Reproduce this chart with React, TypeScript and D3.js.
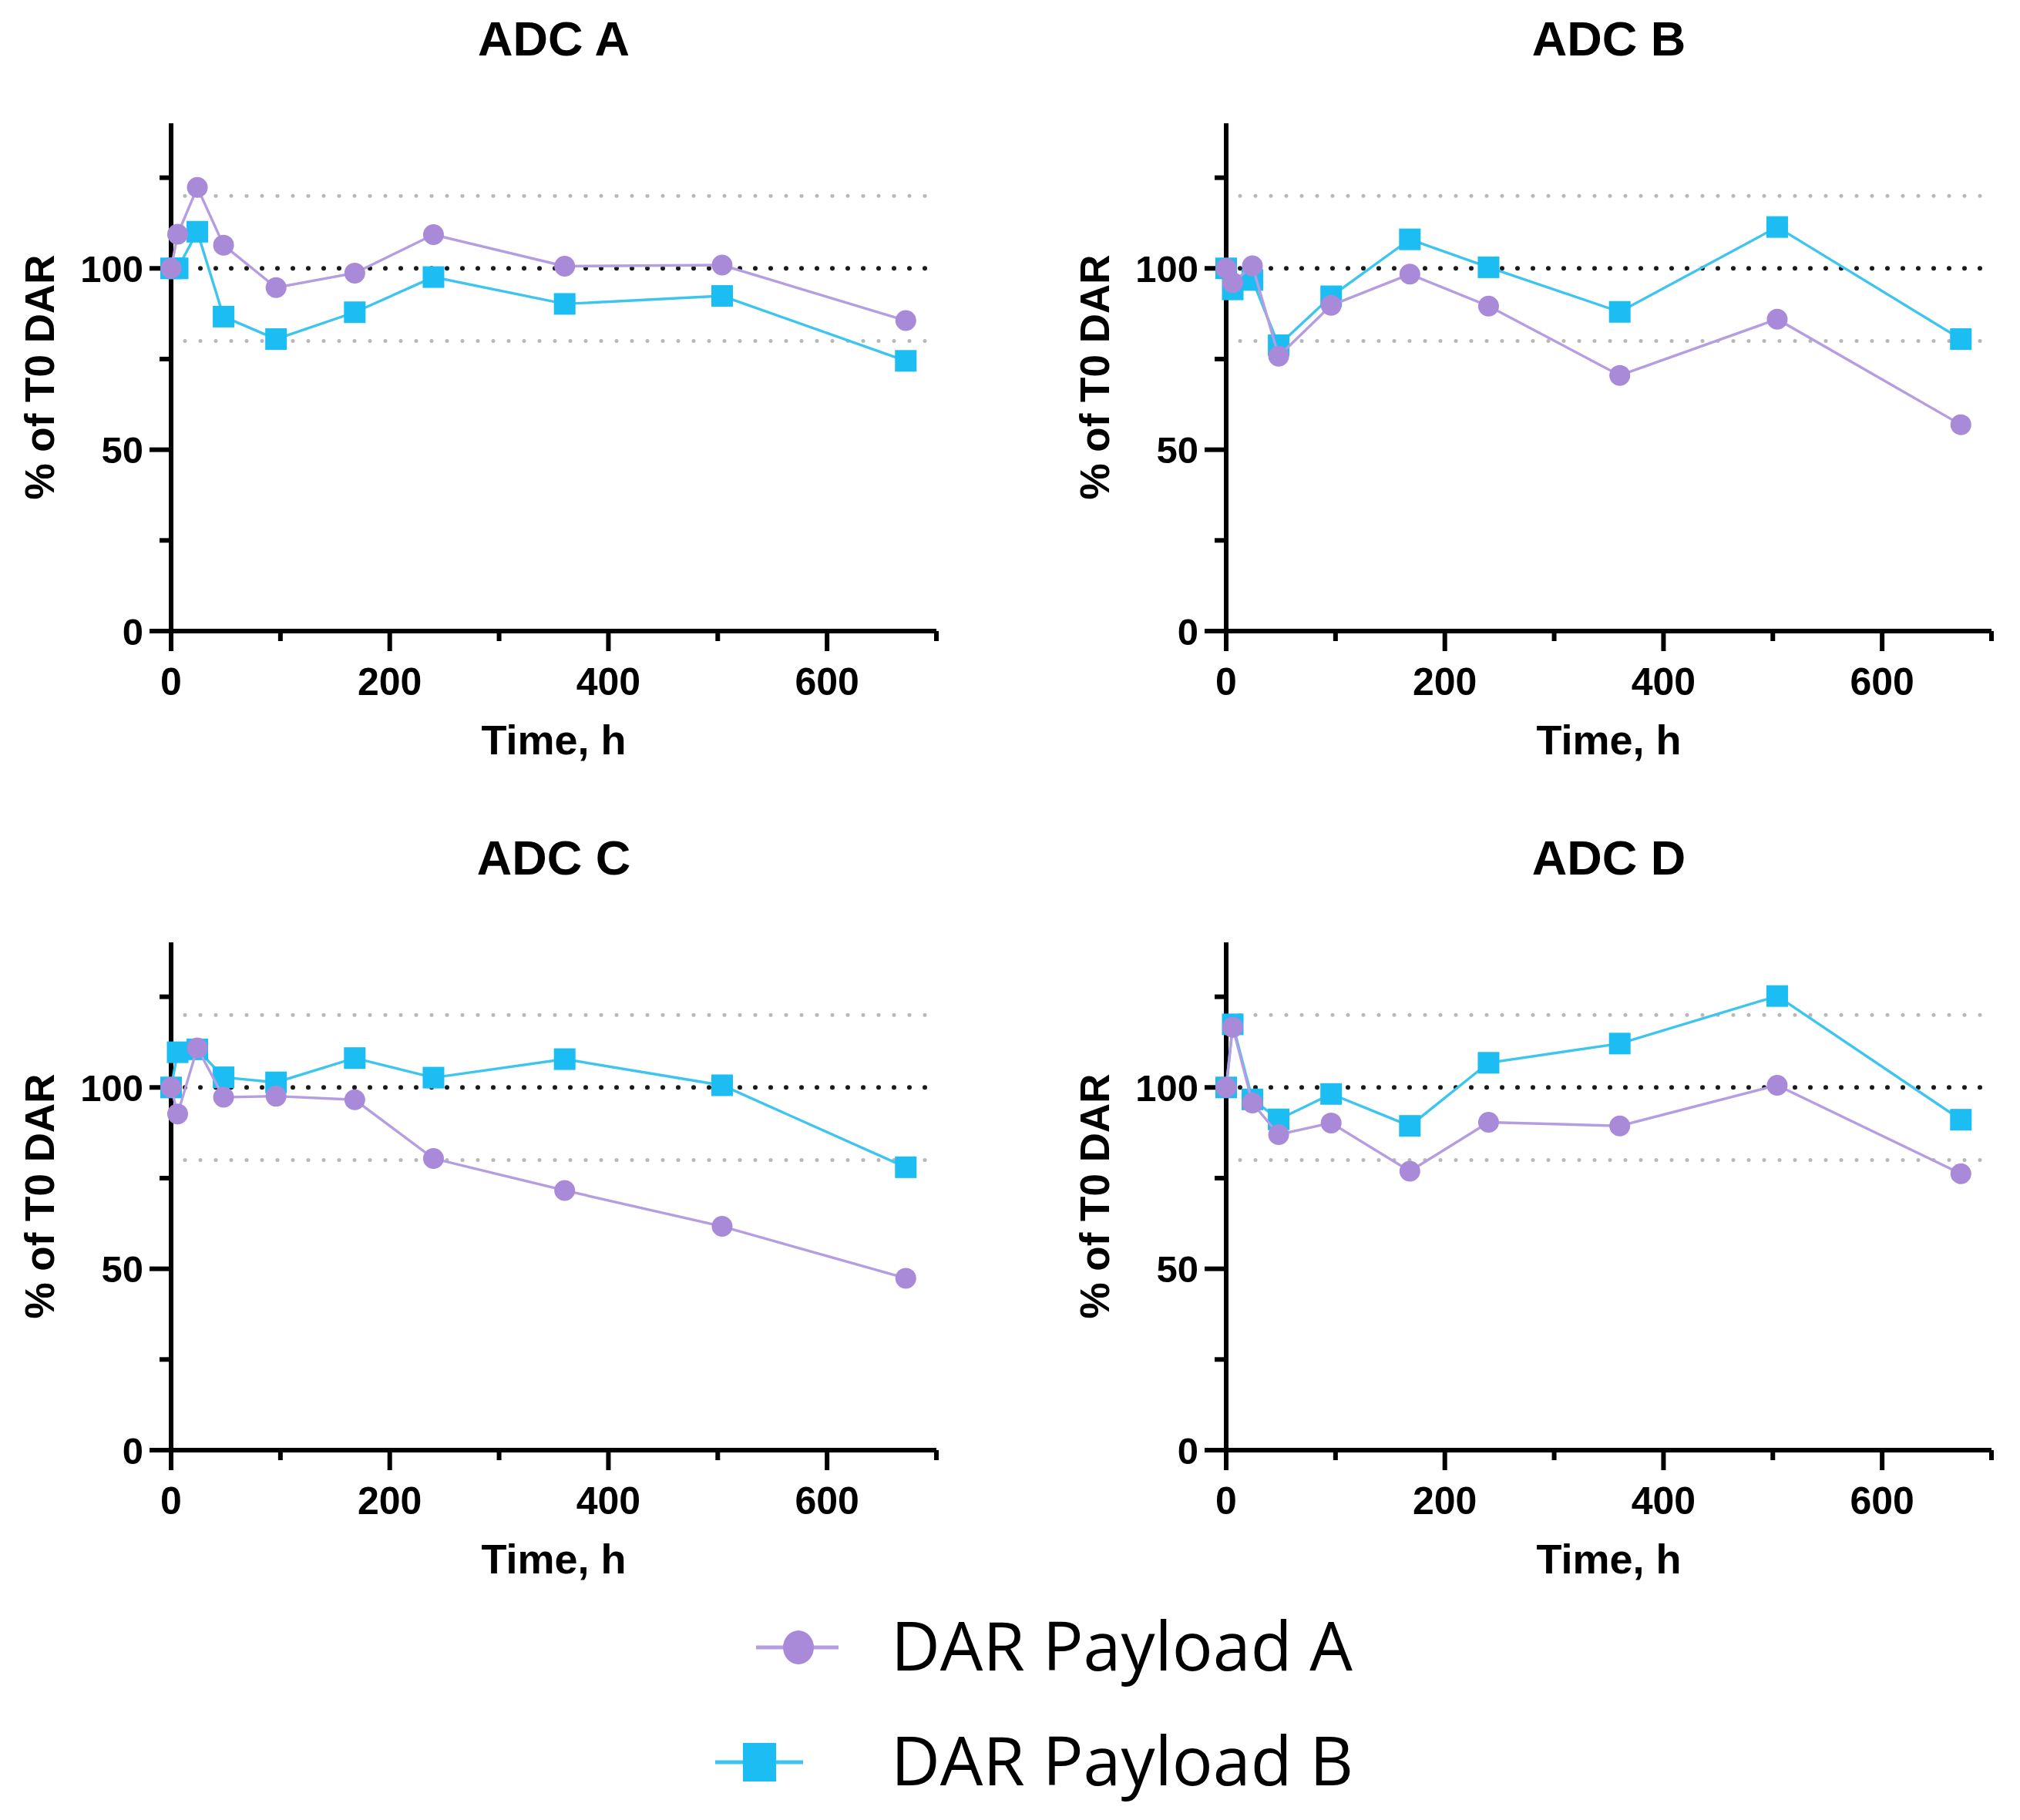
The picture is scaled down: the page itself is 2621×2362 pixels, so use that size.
// @ts-nocheck
import React from "react";
import { scaleLinear, line, range } from "d3";

// sampling times (h)
const hours = [0, 6, 24, 48, 96, 168, 240, 360, 504, 672];

// % of T0 DAR
const adcAPayloadA = [100, 109.4, 122.3, 106.4, 94.7, 98.7, 109.3, 100.6, 100.9, 85.6];
const adcAPayloadB = [100, 100, 110.1, 86.7, 80.5, 87.9, 97.6, 90.2, 92.4, 74.5];
const adcBPayloadA = [100, 96.1, 100.7, 75.8, 89.8, 98.4, 89.6, 70.5, 86.0, 56.9];
const adcBPayloadB = [100, 94.2, 96.8, 78.8, 92.3, 108.0, 100.3, 88.0, 111.4, 80.5];
const adcCPayloadA = [100, 92.7, 110.9, 97.3, 97.6, 96.6, 80.4, 71.6, 61.7, 47.4];
const adcCPayloadB = [100, 109.7, 110.5, 102.8, 101.4, 108.1, 102.7, 107.8, 100.6, 78.0];
const adcDPayloadA = [100, 116.6, 95.7, 87.0, 90.2, 76.9, 90.4, 89.4, 100.6, 76.2];
const adcDPayloadB = [100, 117.4, 96.7, 91.2, 98.2, 89.4, 106.8, 112.1, 125.2, 91.1];

const panelTitles = ["ADC A", "ADC B", "ADC C", "ADC D"];
const payloadA = [adcAPayloadA, adcBPayloadA, adcCPayloadA, adcDPayloadA];
const payloadB = [adcAPayloadB, adcBPayloadB, adcCPayloadB, adcDPayloadB];

const refLines = [120, 100, 80];
const xMajor = [0, 200, 400, 600];
const yMajor = [0, 50, 100];
const legendLabels = ["DAR Payload A", "DAR Payload B"];

const W = 2621;
const H = 2362;
const PURPLE = "#a98ad8";
const PURPLE_LINE = "#b49de0";
const CYAN = "#1bbdf3";
const CYAN_LINE = "#3ec5ef";
const FONT = "'Liberation Sans', Arial, sans-serif";

const plotW = 993;
const plotH = 659;
const origins = [
  [222, 160],
  [1591, 160],
  [222, 1223],
  [1591, 1223],
];

const Panel = ({ title, a, b, ox, oy }) => {
  const x = scaleLinear().domain([0, 700]).range([0, plotW]);
  const y = scaleLinear().domain([0, 140]).range([plotH, 0]);
  const path = line()
    .x((d) => x(d[0]))
    .y((d) => y(d[1]));
  const ptsA = hours.map((h, i) => [h, a[i]]);
  const ptsB = hours.map((h, i) => [h, b[i]]);

  return (
    <g transform={`translate(${ox},${oy})`}>
      <text x={plotW / 2} y={-88} textAnchor="middle" fontFamily={FONT} fontWeight="bold" fontSize={63}>
        {title}
      </text>

      {/* reference lines */}
      {refLines.map((r) => (
        <line
          key={r}
          x1={x(0) + 18}
          x2={x(700)}
          y1={y(r)}
          y2={y(r)}
          stroke={r === 100 ? "#1a1a1a" : "#b8b8b8"}
          strokeWidth={r === 100 ? 6 : 5}
          strokeDasharray="0 20"
          strokeLinecap="round"
        />
      ))}

      {/* axes */}
      <line x1={-28} x2={plotW} y1={plotH} y2={plotH} stroke="#000" strokeWidth={6} />
      <line x1={0} x2={0} y1={0} y2={plotH + 26} stroke="#000" strokeWidth={6} />
      {range(0, 141, 25).map((v) => (
        <line
          key={v}
          x1={yMajor.includes(v) ? -28 : -15}
          x2={0}
          y1={y(v)}
          y2={y(v)}
          stroke="#000"
          strokeWidth={6}
        />
      ))}
      {range(100, 701, 100).map((v) => (
        <line
          key={v}
          x1={x(v)}
          x2={x(v)}
          y1={plotH}
          y2={plotH + (xMajor.includes(v) ? 26 : 13)}
          stroke="#000"
          strokeWidth={6}
        />
      ))}
      {yMajor.map((v) => (
        <text
          key={v}
          x={-36}
          y={y(v)}
          dy="0.36em"
          textAnchor="end"
          fontFamily={FONT}
          fontWeight="bold"
          fontSize={49}
        >
          {v}
        </text>
      ))}
      {xMajor.map((v) => (
        <text
          key={v}
          x={x(v)}
          y={plotH + 83}
          textAnchor="middle"
          fontFamily={FONT}
          fontWeight="bold"
          fontSize={50}
        >
          {v}
        </text>
      ))}
      <text x={plotW / 2} y={plotH + 160} textAnchor="middle" fontFamily={FONT} fontWeight="bold" fontSize={54}>
        Time, h
      </text>
      <text
        transform={`translate(-152,${plotH / 2}) rotate(-90)`}
        textAnchor="middle"
        fontFamily={FONT}
        fontWeight="bold"
        fontSize={53}
      >
        % of T0 DAR
      </text>

      {/* payload B: cyan squares */}
      <path d={path(ptsB)} fill="none" stroke={CYAN_LINE} strokeWidth={3.4} />
      {ptsB.map((p, i) => (
        <rect key={i} x={x(p[0]) - 14} y={y(p[1]) - 14} width={28} height={28} fill={CYAN} />
      ))}

      {/* payload A: purple circles */}
      <path d={path(ptsA)} fill="none" stroke={PURPLE_LINE} strokeWidth={3.4} />
      {ptsA.map((p, i) => (
        <circle key={i} cx={x(p[0])} cy={y(p[1])} r={13.5} fill={PURPLE} />
      ))}
    </g>
  );
};

export default function App() {
  return (
    <svg
      width={W}
      height={H}
      viewBox={`0 0 ${W} ${H}`}
      style={{ position: "absolute", left: 0, top: 0, background: "#fff" }}
    >
      <rect width={W} height={H} fill="#fff" />
      {panelTitles.map((t, i) => (
        <Panel key={t} title={t} a={payloadA[i]} b={payloadB[i]} ox={origins[i][0]} oy={origins[i][1]} />
      ))}

      {/* legend */}
      <g>
        <line x1={981} x2={1088} y1={2138} y2={2138} stroke={PURPLE_LINE} strokeWidth={5} />
        <ellipse cx={1036} cy={2138} rx={20} ry={22} fill={PURPLE} />
        <text x={1156} y={2168} fontFamily="'Open Sans', 'Noto Sans', sans-serif" fontSize={88} fill="#000">
          {legendLabels[0]}
        </text>
        <line x1={928} x2={1042} y1={2287} y2={2287} stroke={CYAN_LINE} strokeWidth={5} />
        <rect x={964} y={2262} width={43} height={50} fill={CYAN} />
        <text x={1156} y={2317} fontFamily="'Open Sans', 'Noto Sans', sans-serif" fontSize={88} fill="#000">
          {legendLabels[1]}
        </text>
      </g>
    </svg>
  );
}
